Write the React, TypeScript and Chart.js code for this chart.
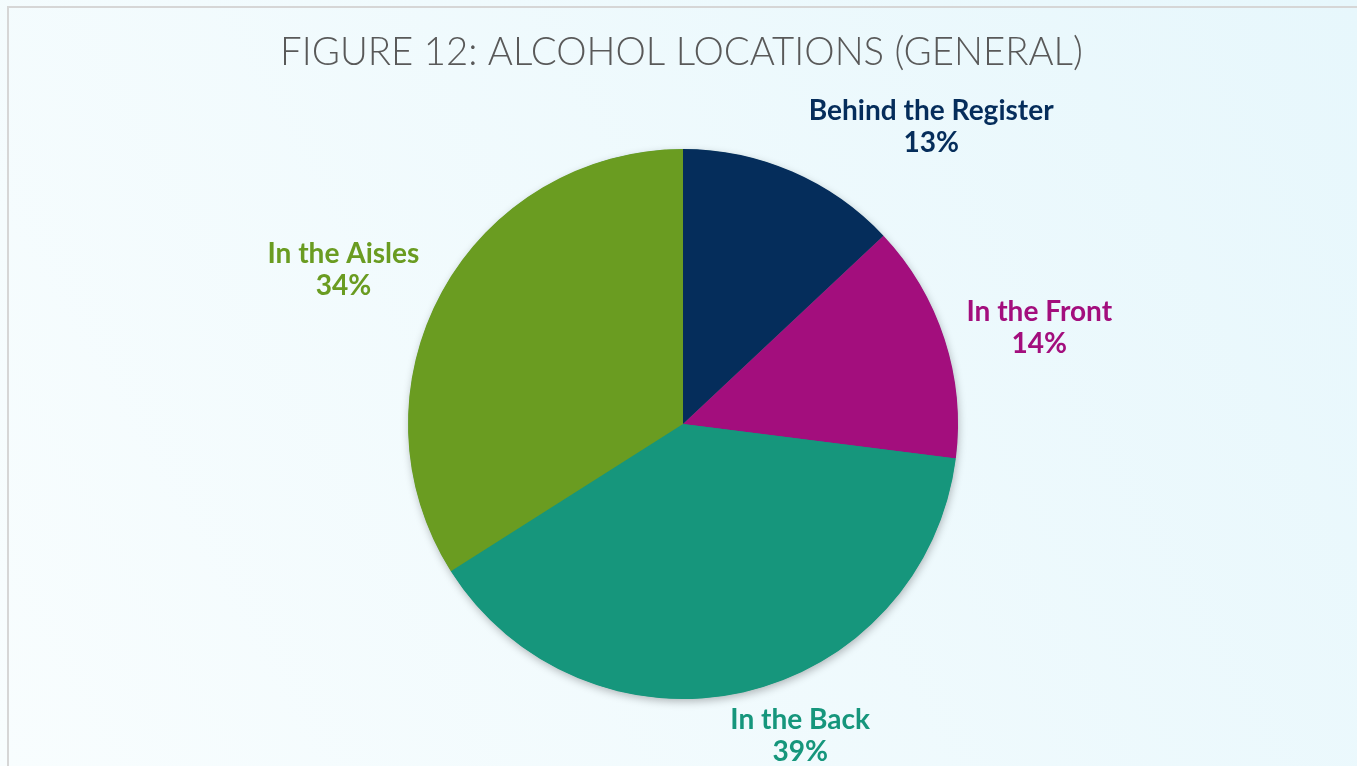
import React, { useEffect, useRef } from "react";
import { Chart, registerables } from "chart.js";

Chart.register(...registerables);

const TITLE = "FIGURE 12: ALCOHOL LOCATIONS (GENERAL)";
const categories = ["Behind the Register", "In the Front", "In the Back", "In the Aisles"];
const values = [13, 14, 39, 34];
const percentLabels = ["13%", "14%", "39%", "34%"];
const colors = ["#052D5B", "#A30E7D", "#16967C", "#6A9C21"];
// label placement: angle (deg clockwise from top) and distance in units of pie radius
const labelAngles = [39.9, 74.9, 159.4, 294.4];
const labelDistances = [1.407, 1.342, 1.211, 1.356];

const W = 1357;
const H = 766;

function fitFont(ctx: CanvasRenderingContext2D, text: string, weight: string, family: string, target: number) {
  ctx.font = `${weight} 40px ${family}`;
  const w = ctx.measureText(text).width;
  return (40 * target) / w;
}

const bgPlugin = {
  id: "bgPlugin",
  beforeDraw(chart: any) {
    const ctx = chart.ctx as CanvasRenderingContext2D;
    ctx.save();
    const g = ctx.createLinearGradient(0, H, W, 0);
    g.addColorStop(0, "#f8fdfe");
    g.addColorStop(1, "#e7f7fc");
    ctx.fillStyle = g;
    ctx.fillRect(0, 0, W, H);
    ctx.strokeStyle = "#d6d6d6";
    ctx.lineWidth = 2;
    ctx.beginPath();
    ctx.moveTo(8, H + 5);
    ctx.lineTo(8, 7);
    ctx.lineTo(W + 5, 7);
    ctx.stroke();

    // title
    const fam = "Lato, 'Open Sans', sans-serif";
    const size = fitFont(ctx, TITLE, "300", fam, 803);
    ctx.font = `300 ${size}px ${fam}`;
    ctx.fillStyle = "#595959";
    ctx.textAlign = "center";
    ctx.textBaseline = "middle";
    ctx.fillText(TITLE, 681.5, 53);
    ctx.restore();
  },
  beforeDatasetsDraw(chart: any) {
    const meta = chart.getDatasetMeta(0);
    const arc = meta.data[0];
    if (!arc) return;
    const ctx = chart.ctx as CanvasRenderingContext2D;
    ctx.save();
    ctx.shadowColor = "rgba(0,0,0,0.28)";
    ctx.shadowBlur = 8;
    ctx.shadowOffsetX = 1;
    ctx.shadowOffsetY = 3;
    ctx.fillStyle = colors[2];
    ctx.beginPath();
    ctx.arc(arc.x, arc.y, arc.outerRadius - 0.5, 0, Math.PI * 2);
    ctx.fill();
    ctx.restore();
  },
  afterDraw(chart: any) {
    const meta = chart.getDatasetMeta(0);
    const arc = meta.data[0];
    if (!arc) return;
    const ctx = chart.ctx as CanvasRenderingContext2D;
    ctx.save();
    const fam = "Lato, 'Open Sans', sans-serif";
    const size = fitFont(ctx, categories[0], "bold", fam, 245);
    ctx.font = `bold ${size}px ${fam}`;
    ctx.textAlign = "center";
    ctx.textBaseline = "middle";
    categories.forEach((c, i) => {
      const a = (labelAngles[i] * Math.PI) / 180;
      const d = labelDistances[i] * arc.outerRadius;
      const x = arc.x + Math.sin(a) * d;
      const y = arc.y - Math.cos(a) * d;
      ctx.fillStyle = colors[i];
      ctx.fillText(c, x, y - 16);
      ctx.fillText(percentLabels[i], x, y + 16);
    });
    ctx.restore();
  },
};

export default function App() {
  const ref = useRef<HTMLCanvasElement | null>(null);
  useEffect(() => {
    document.body.style.margin = "0";
    const canvas = ref.current!;
    const chart = new Chart(canvas, {
      type: "pie",
      data: {
        labels: categories,
        datasets: [
          {
            data: values,
            backgroundColor: colors,
            borderWidth: 0,
            hoverOffset: 0,
          },
        ],
      },
      options: {
        responsive: false,
        animation: false,
        devicePixelRatio: 1,
        layout: { padding: { top: 149, bottom: 67, left: 408, right: 399 } },
        plugins: {
          legend: { display: false },
          tooltip: { enabled: false },
          title: { display: false },
        },
      },
      plugins: [bgPlugin],
    });
    return () => chart.destroy();
  }, []);
  return (
    <div style={{ position: "fixed", left: 0, top: 0, width: W, height: H }}>
      <canvas ref={ref} width={W} height={H} style={{ width: W, height: H, display: "block" }} />
    </div>
  );
}
